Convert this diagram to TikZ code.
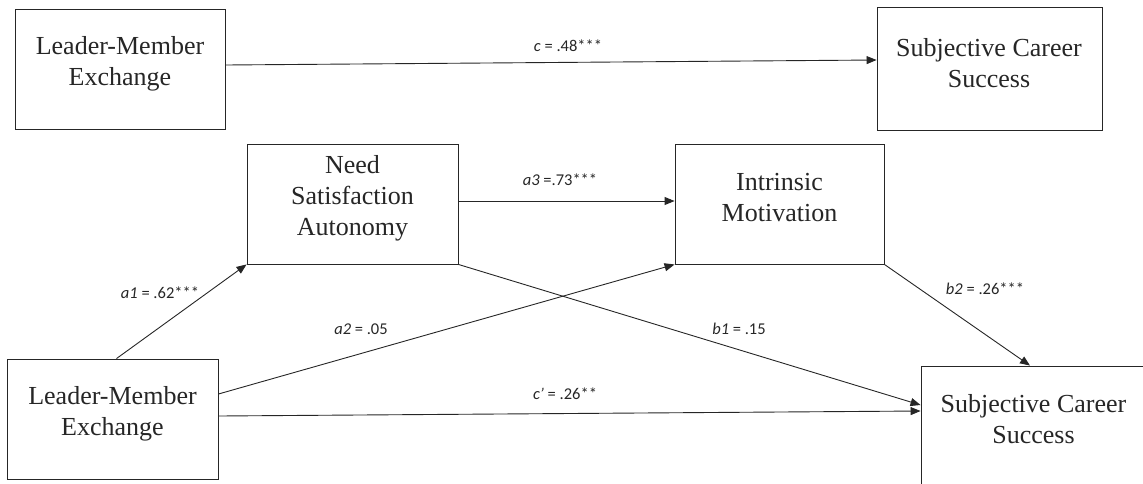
\documentclass[tikz,border=0pt]{standalone}
\usepackage{fontspec}
\newfontfamily\boxfont{Liberation Serif}[Scale=1.0]
\newfontfamily\lblfont{Carlito}
\usetikzlibrary{arrows.meta}
\tikzset{
  boxnode/.style={draw=black!85, line width=0.9pt, rectangle, inner sep=0pt},
  boxtext/.style={align=center, font=\boxfont\fontsize{26}{31}\selectfont, text=black!85, inner sep=0pt},
  conn/.style={draw=black!85, line width=0.9pt, -{Triangle[length=10pt,width=8pt]}},
  lbl/.style={font=\lblfont\fontsize{16.5}{19}\selectfont, text=black!85, inner sep=0pt}
}
\begin{document}
\begin{tikzpicture}[x=1pt,y=-1pt]
\useasboundingbox (0,0) rectangle (1143,483);
\clip (0,0) rectangle (1143,483);
% boxes
\node[boxnode, minimum width=210pt, minimum height=120pt] (lmx1) at (120,69) {};
\node[boxnode, minimum width=225pt, minimum height=123pt] (scs1) at (989.5,68.5) {};
\node[boxnode, minimum width=211pt, minimum height=120pt] (need) at (352.5,204) {};
\node[boxnode, minimum width=209pt, minimum height=120pt] (im) at (779.5,204) {};
\node[boxnode, minimum width=211pt, minimum height=120pt] (lmx2) at (112.5,419) {};
\node[boxnode, minimum width=225pt, minimum height=120pt] (scs2) at (1033.5,426) {};
% texts
\node[boxtext] (t1) at (120,63.5) {Leader-Member\\Exchange};
\node[boxtext] (t2) at (989,63.5) {Subjective Career\\Success};
\node[boxtext] (t3) at (352.5,198.5) {Need\\Satisfaction\\Autonomy};
\node[boxtext] (t4) at (779.5,197.5) {Intrinsic\\Motivation};
\node[boxtext] (t5) at (112.5,414) {Leader-Member\\Exchange};
\node[boxtext] (t6) at (1033.5,419.5) {Subjective Career\\Success};
% connectors
\draw[conn] ([yshift=4pt]lmx1.east) -- ([yshift=8.5pt]scs1.west);
\draw[conn] ([yshift=3pt]need.east) -- ([yshift=3pt]im.west);
\draw[conn] ([xshift=4pt]lmx2.north) -- (need.south west);
\draw[conn] ([yshift=25pt]lmx2.east) -- (im.south west);
\draw[conn] (need.south east) -- ([yshift=21pt]scs2.west);
\draw[conn] ([yshift=3pt]lmx2.east) -- ([yshift=15pt]scs2.west);
\draw[conn] (im.south east) -- ([xshift=-3.5pt]scs2.north);
% labels
\node[lbl] (lc) at (568,46) {\itshape c\upshape{} = .48***};
\node[lbl] (la3) at (560,180) {\itshape a3\upshape{} =.73***};
\node[lbl] (la1) at (160,293) {\itshape a1\upshape{} = .62***};
\node[lbl] (la2) at (361,329) {\itshape a2\upshape{} = .05};
\node[lbl] (lb1) at (739,329) {\itshape b1\upshape{} = .15};
\node[lbl] (lcp) at (565,394) {\itshape c’\upshape{} = .26**};
\node[lbl] (lb2) at (985,289) {\itshape b2\upshape{} = .26***};
\end{tikzpicture}
\end{document}
